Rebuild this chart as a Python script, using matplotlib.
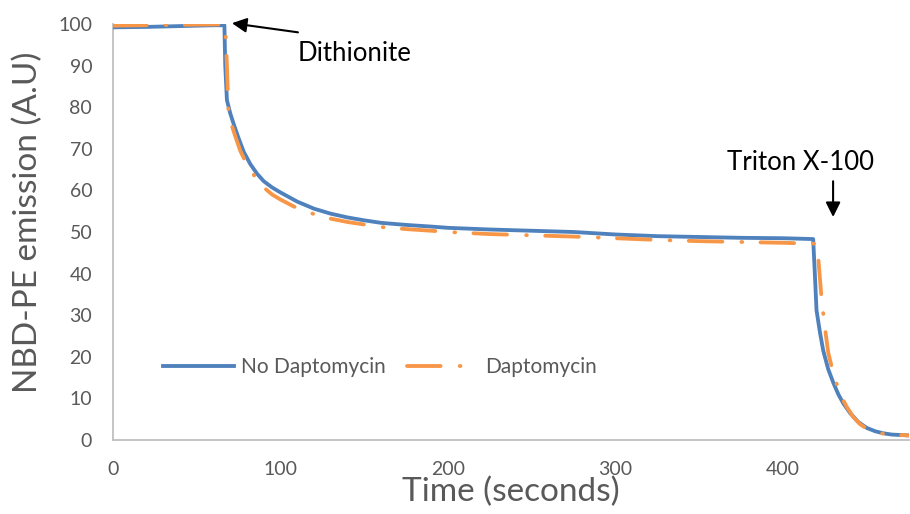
import matplotlib
matplotlib.use("Agg")
import matplotlib.pyplot as plt

plt.rcParams['font.family'] = ['Lato', 'DejaVu Sans']

# --- data ---
time_no_dapto = [0, 20, 40, 60, 66.5, 67, 68, 70, 72, 75, 78, 82, 86, 90, 95, 100,
                 110, 120, 130, 140, 150, 160, 175, 190, 200, 225, 250, 275, 300,
                 325, 350, 375, 400, 418, 419, 420, 422, 424, 427, 430, 433, 436,
                 440, 445, 450, 455, 460, 465, 470, 475]
no_dapto = [99.2, 99.3, 99.5, 99.7, 99.7, 90, 81.7, 78.5, 76, 72.5, 69.3, 66.3,
            64.0, 62.2, 60.7, 59.5, 57.3, 55.6, 54.4, 53.5, 52.8, 52.2, 51.7, 51.3,
            51.0, 50.6, 50.3, 50.0, 49.4, 49.0, 48.8, 48.6, 48.5, 48.3, 40, 31.2,
            26, 21.5, 17, 13.8, 11, 8.8, 6.5, 4.3, 2.9, 2.1, 1.6, 1.3, 1.2, 1.1]

time_dapto = [0, 20, 40, 60, 67, 68, 69, 71, 73, 76, 79, 82, 86, 90, 95, 100, 110,
              120, 130, 140, 150, 160, 175, 190, 200, 225, 250, 275, 300, 325, 350,
              375, 400, 419, 420, 421, 423, 425, 427, 430, 434, 438, 442, 446, 450,
              455, 460, 465, 470, 475]
dapto = [99.6, 99.7, 99.8, 99.9, 99.9, 90, 78, 75.5, 73, 69.5, 67, 65, 62.5, 60.7,
         59.0, 57.8, 55.7, 54.3, 53.2, 52.4, 51.8, 51.2, 50.7, 50.3, 50.0, 49.5,
         49.2, 48.9, 48.5, 48.1, 47.8, 47.6, 47.4, 47.2, 46, 44, 34, 27, 21, 16,
         11, 8, 5.5, 3.8, 2.7, 1.9, 1.5, 1.3, 1.2, 1.1]

series_labels = ["No Daptomycin", "Daptomycin"]
x_ticks = [0, 100, 200, 300, 400]
y_ticks = [0, 10, 20, 30, 40, 50, 60, 70, 80, 90, 100]

BLUE = "#4F81BD"
ORANGE = "#F79646"
GREY_TXT = "#595959"

fig = plt.figure(figsize=(9.10, 5.14), dpi=100)
ax = fig.add_axes([0.1242, 0.144, 0.8743, 0.8093])

ax.plot(time_no_dapto, no_dapto, color=BLUE, lw=2.75, label=series_labels[0],
        solid_joinstyle='round', zorder=3)
ax.plot(time_dapto, dapto, color=ORANGE, lw=2.75, label=series_labels[1],
        linestyle=(0, (8.8, 5.0, 0.2, 4.8)), dash_capstyle='round', zorder=4)

ax.set_xlim(0, 475)
ax.set_ylim(0, 100)
ax.set_xticks(x_ticks)
ax.set_yticks(y_ticks)
ax.tick_params(length=0, pad=15, labelsize=14, labelcolor=GREY_TXT)

for s in ['top', 'right']:
    ax.spines[s].set_visible(False)
for s in ['left', 'bottom']:
    ax.spines[s].set_color('#BFBFBF')
    ax.spines[s].set_linewidth(1.3)

ax.set_xlabel("Time (seconds)", fontsize=24, color=GREY_TXT, labelpad=-1)
ax.set_ylabel("NBD-PE emission (A.U)", fontsize=24, color=GREY_TXT)
ax.yaxis.set_label_coords(-0.088, 0.524)

leg = ax.legend(loc='center left', bbox_to_anchor=(0.063, 0.175), ncol=2,
                frameon=False, fontsize=15, handlelength=3.4, handletextpad=0.35,
                columnspacing=1.0, borderpad=0, borderaxespad=0)
for t in leg.get_texts():
    t.set_color(GREY_TXT)

ax.annotate("", xy=(71, 100.2), xytext=(110.4, 98.0),
            arrowprops=dict(arrowstyle='-|>', color='black', lw=1.5,
                            mutation_scale=22, shrinkA=0, shrinkB=0),
            annotation_clip=False)
ax.text(110.4, 93.0, "Dithionite", fontsize=18.5, color='black',
        ha='left', va='center')

ax.annotate("", xy=(429.9, 53.6), xytext=(429.9, 62.2),
            arrowprops=dict(arrowstyle='-|>', color='black', lw=1.5,
                            mutation_scale=22, shrinkA=0, shrinkB=0),
            annotation_clip=False)
ax.text(410.7, 66.6, "Triton X-100", fontsize=18.5, color='black',
        ha='center', va='center')

fig.savefig("out.png", dpi=100)
